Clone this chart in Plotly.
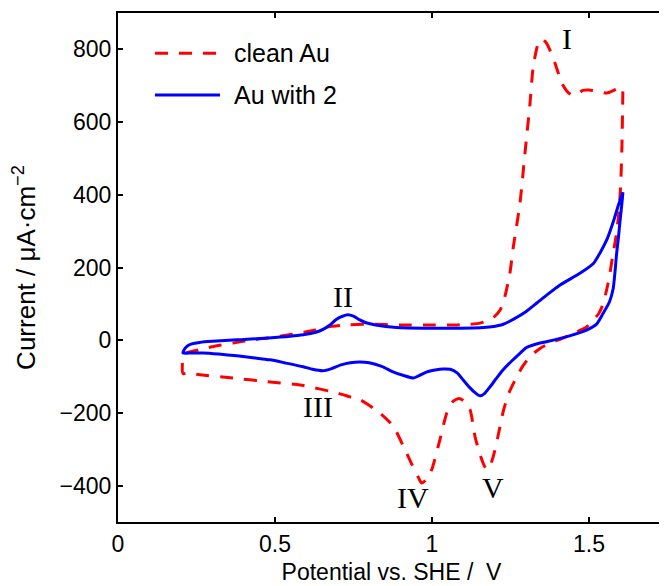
import plotly.graph_objects as go

# ---- data ----
clean_E_anodic = [0.207, 0.215, 0.235, 0.26, 0.30, 0.366, 0.42, 0.474, 0.53, 0.58, 0.63, 0.665, 0.73, 0.80,
                  0.90, 1.00, 1.08, 1.12, 1.153, 1.185, 1.20, 1.217, 1.232, 1.248, 1.259, 1.28, 1.296, 1.312,
                  1.322, 1.338, 1.35, 1.362, 1.376, 1.392, 1.414, 1.435, 1.45, 1.465, 1.48, 1.50, 1.525,
                  1.557, 1.585, 1.60, 1.608]
clean_I_anodic = [-45, -36, -31, -26, -18, -8, 0, 6, 13, 20, 28, 36, 42, 44,
                  42, 42, 42, 44, 47, 56, 66, 83, 120, 184, 257, 376, 514, 651,
                  750, 816, 828, 820, 797, 761, 706, 680, 673, 678, 687, 688, 685,
                  680, 690, 696, 693]
clean_E_cathodic = [1.608, 1.607, 1.605, 1.601, 1.595, 1.585, 1.575, 1.565, 1.556, 1.545, 1.53, 1.514,
                    1.49, 1.45, 1.417, 1.376, 1.345, 1.312, 1.29, 1.27, 1.245, 1.227, 1.21, 1.195, 1.179,
                    1.168, 1.155, 1.137, 1.121, 1.10, 1.085, 1.065, 1.047, 1.025, 0.999, 0.98, 0.967,
                    0.955, 0.935, 0.909, 0.877, 0.834, 0.771, 0.739, 0.697, 0.58, 0.474, 0.366, 0.261,
                    0.22, 0.207, 0.207]
clean_I_cathodic = [693, 641, 540, 430, 350, 280, 230, 175, 138, 100, 72, 56,
                    35, 19, 6, -8, -22, -45, -70, -100, -145, -195, -265, -320, -356,
                    -348, -320, -265, -191, -166, -160, -170, -200, -274, -356, -385, -393,
                    -375, -340, -292, -237, -200, -164, -156, -145, -123, -114, -104, -95,
                    -90, -92, -45]

mod_E_anodic = [0.207, 0.212, 0.222, 0.235, 0.26, 0.30, 0.379, 0.48, 0.59, 0.63, 0.653, 0.675, 0.696,
                0.715, 0.732, 0.75, 0.77, 0.79, 0.82, 0.887, 0.995, 1.089, 1.153, 1.19, 1.227, 1.26,
                1.30, 1.335, 1.365, 1.408, 1.471, 1.514, 1.535, 1.556, 1.567, 1.58, 1.593, 1.608]
mod_I_anodic = [-35, -24, -15, -10, -6, -3, 1, 6, 15, 22, 30, 42, 58,
                66, 70, 66, 56, 48, 42, 35, 33, 33, 34, 37, 44, 58,
                79, 103, 124, 152, 184, 211, 240, 275, 300, 333, 370, 407]
mod_E_cathodic = [1.608, 1.604, 1.599, 1.594, 1.588, 1.583, 1.577, 1.565, 1.545, 1.525, 1.492, 1.43,
                  1.365, 1.33, 1.301, 1.28, 1.253, 1.226, 1.205, 1.185, 1.168, 1.153, 1.138, 1.121, 1.10,
                  1.08, 1.058, 1.035, 1.01, 0.984, 0.96, 0.94, 0.91, 0.876, 0.84, 0.80, 0.77, 0.74,
                  0.71, 0.68, 0.653, 0.62, 0.59, 0.53, 0.484, 0.43, 0.379, 0.32, 0.271, 0.235, 0.207]
mod_I_cathodic = [407, 370, 330, 285, 239, 190, 142, 105, 74, 45, 28, 10,
                  -4, -11, -20, -36, -58, -82, -105, -128, -146, -153, -145, -131, -110,
                  -90, -80, -79, -82, -87, -97, -104, -97, -87, -72, -62, -60, -62,
                  -68, -78, -84, -80, -73, -62, -54, -48, -43, -38, -35, -35, -35]

peak_labels = ["I", "II", "III", "IV", "V"]
peak_E = [1.429, 0.717, 0.637, 0.94, 1.194]
peak_I = [830, 119, -183, -433, -406]

series_names = ["clean Au", "Au with 2"]
x_ticks = [0, 0.5, 1, 1.5]
y_ticks = [-400, -200, 0, 200, 400, 600, 800]

SANS = "Liberation Sans, Arial, Helvetica, sans-serif"
SERIF = "Liberation Serif, Times New Roman, serif"
RED_DASH = "13px,11px"

fig = go.Figure()
fig.add_trace(go.Scatter(
    x=clean_E_anodic + clean_E_cathodic, y=clean_I_anodic + clean_I_cathodic,
    mode="lines", name=series_names[0],
    line=dict(color="#FF0000", width=3, dash=RED_DASH, shape="spline", smoothing=0.6),
    showlegend=False))
fig.add_trace(go.Scatter(
    x=mod_E_anodic + mod_E_cathodic, y=mod_I_anodic + mod_I_cathodic,
    mode="lines", name=series_names[1],
    line=dict(color="#0000FF", width=3, shape="spline", smoothing=0.6),
    showlegend=False))

for lab, ex, iy in zip(peak_labels, peak_E, peak_I):
    fig.add_annotation(x=ex, y=iy, text=lab, showarrow=False,
                       font=dict(family=SERIF, size=30, color="black"))

# legend drawn as key lines + text
leg_colors = ["#FF0000", "#0000FF"]
leg_dash = [RED_DASH, "solid"]
leg_y = [0.921, 0.839]
for name, c, d, yy in zip(series_names, leg_colors, leg_dash, leg_y):
    fig.add_shape(type="line", xref="paper", yref="paper", x0=0.0676, x1=0.1865, y0=yy, y1=yy,
                  line=dict(color=c, width=3, dash=d))
    fig.add_annotation(xref="paper", yref="paper", x=0.2084, y=yy, text=name, showarrow=False,
                       xanchor="left", yanchor="middle", font=dict(family=SANS, size=25, color="black"))

axis_common = dict(showline=True, linecolor="black", linewidth=2, mirror="ticks",
                   ticks="inside", ticklen=5, tickwidth=1.5, tickcolor="black",
                   showgrid=False, zeroline=False, automargin=False,
                   tickfont=dict(family=SANS, size=23, color="black"))

fig.update_xaxes(range=[0, 1.742], tickvals=x_ticks, ticktext=["0", "0.5", "1", "1.5"],
                 title=dict(text="Potential vs. SHE / \u00a0V", font=dict(family=SANS, size=23, color="black"),
                            standoff=8),
                 **axis_common)
fig.update_yaxes(range=[-500, 900], tickvals=y_ticks,
                 ticktext=["\u2212400", "\u2212200", "0", "200", "400", "600", "800"],
                 title=dict(text="Current / \u03bcA\u00b7cm<sup>\u22122</sup>",
                            font=dict(family=SANS, size=26, color="black"), standoff=18),
                 **axis_common)

# the page body adds an 8px offset, so the figure is 8px smaller and shifted accordingly
fig.update_layout(width=659, height=578, margin=dict(l=110, r=2, t=5, b=64),
                  plot_bgcolor="white", paper_bgcolor="white", showlegend=False)

fig.write_html("out.html")
